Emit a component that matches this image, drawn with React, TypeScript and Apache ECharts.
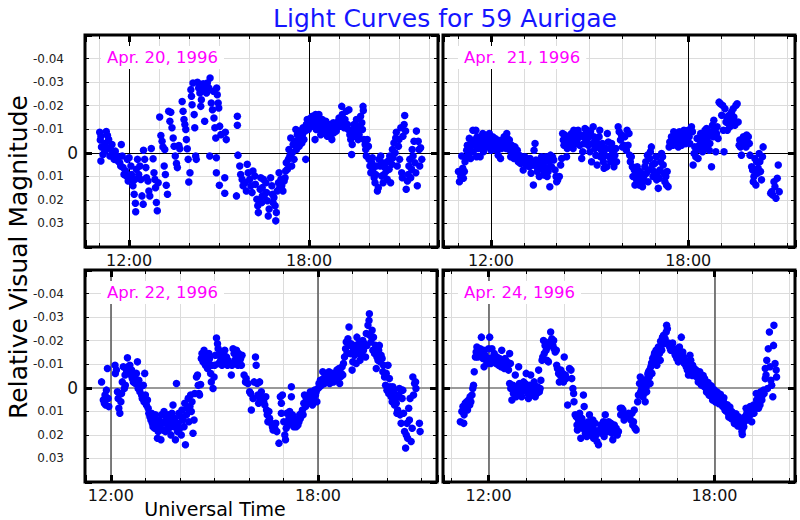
import React, { useEffect, useRef } from "react";
import * as echarts from "echarts";

// ---------- DATA: [universal time (hours), relative visual magnitude] ----------
const apr20: number[][] = [
  [11.02,-0.0087],[11.06,-0.007],[11.04,-0.0054],[11.08,-0.0025],[11.06,0.0035],[11.13,0.0007],[11.24,-0.009],[11.28,-0.0073],[11.21,-0.004],[11.32,-0.0056],
  [11.3,-0.002],[11.39,-0.0014],[11.19,-0.0007],[11.36,0.0014],[11.43,-0.0035],[11.47,0],[11.5,0.0028],[11.54,-0.0007],[11.58,0.0014],[11.63,0.0035],
  [11.69,0.0042],[11.74,-0.0035],[11.77,0.0014],[11.72,0.0056],[11.8,0.0063],[11.83,0.0092],[11.88,0.0077],[11.94,0.0028],[11.91,0.0099],[11.97,0.012],
  [12.0,0.0021],[12.06,0.0056],[12.08,0.0092],[12.1,0.0113],[12.13,0.014],[12.17,0.0176],[12.21,0.0214],[12.22,0.025],[12.19,0.0113],[12.24,0.007],
  [12.28,0.0028],[12.32,0.0092],[12.36,0.0056],[12.39,0.0113],[12.43,0.0183],[12.47,0.0218],[12.48,-0.0011],[12.52,0.0028],[12.56,0.0063],[12.58,0.0106],
  [12.63,0.012],[12.66,0.0162],[12.69,0.0183],[12.74,-0.0018],[12.8,0.0025],[12.83,0.0085],[12.88,0.0148],[12.91,0.0211],[12.94,0.0246],[12.86,0.0113],
  [12.97,0.0127],[13.02,-0.0152],[13.06,-0.0073],[13.1,-0.0049],[13.13,-0.0025],[13.17,0.0056],[13.21,0.0092],[13.24,0.0138],[13.28,0.0176],[13.19,-0.0014],
  [13.32,-0.0176],[13.39,-0.0172],[13.36,-0.0134],[13.43,-0.0106],[13.47,-0.0063],[13.5,-0.0028],[13.54,0.0014],[13.58,0.0045],[13.61,0.0063],[13.66,-0.0031],
  [13.69,-0.0017],[13.77,-0.0218],[13.8,-0.0176],[13.83,-0.0141],[13.86,-0.012],[13.89,-0.0099],[13.91,-0.0056],[13.94,-0.0017],[13.97,0.0028],[13.99,0.0124],
  [14.03,0.0085],[14.06,-0.0268],[14.08,-0.024],[14.1,-0.0204],[14.13,-0.0296],[14.17,-0.0162],[14.19,-0.0106],[14.22,0.0014],[14.24,0.0028],[14.28,-0.0299],
  [14.32,-0.0275],[14.36,-0.0254],[14.39,-0.0197],[14.41,-0.0225],[14.47,-0.0293],[14.5,-0.0268],[14.54,-0.0285],[14.52,-0.0134],[14.58,-0.0254],[14.61,-0.0296],
  [14.66,-0.0275],[14.7,-0.0317],[14.69,0.0014],[14.74,-0.0211],[14.78,-0.0183],[14.81,-0.0261],[14.83,-0.0148],[14.86,-0.0106],[14.89,-0.0063],[14.91,0.0021],
  [14.92,-0.0275],[14.94,-0.0246],[14.97,-0.0211],[14.99,-0.019],[15.02,-0.0113],[15.06,-0.0077],[14.91,0.0085],[15.01,0.0138],[15.19,0.0106],[15.21,-0.0087],
  [15.24,-0.0056],[15.19,0.0172],[15.61,-0.0155],[15.61,-0.0117],[15.58,0.0183],[15.63,0.001],[15.69,0.0056],[15.72,0.0092],[15.77,0.0113],[15.8,0.014],
  [15.86,0.0127],[15.91,0.0162],[15.94,0.0049],[15.97,0.0085],[16.02,0.0113],[16.06,0.014],[16.1,0.0169],[16.13,0.0077],[16.19,0.0099],[16.21,0.0134],
  [16.26,0.0197],[16.31,0.0254],[16.29,0.0225],[16.37,0.0155],[16.41,0.0211],[16.44,0.0183],[16.48,0.0113],
  [16.39,0.0106],[16.44,0.0148],[16.5,0.0183],[16.42,0.0211],[16.56,0.0127],[16.58,0.0169],[16.61,0.0204],[16.64,0.0268],[16.67,0.0239],[16.72,0.0106],
  [16.76,0.014],[16.78,0.0176],[16.8,0.0211],[16.83,0.019],[16.87,0.0225],[16.89,0.0289],[16.91,0.0254],[16.94,0.0162],[16.98,0.0127],[17.0,0.0085],
  [17.02,0.0148],[17.06,0.0113],[17.09,0.014],[17.13,0.0162],[17.17,0.012],[17.2,0.0106],[17.22,0.0077],[17.24,0.0042],[17.28,0.007],[17.31,0.0028],
  [17.33,-0.0014],[17.36,0.0014],[17.39,-0.0063],[17.42,0.0056],[17.44,0],[17.47,-0.0035],[17.5,0.0028],[17.53,-0.0049],[17.56,-0.0099],[17.58,-0.0014],
  [17.61,-0.0077],[17.64,-0.0049],[17.67,-0.0028],[17.69,-0.0092],[17.72,-0.0063],[17.76,-0.0042],[17.78,-0.0077],[17.8,-0.0106],[17.83,-0.0056],[17.87,-0.0092],
  [17.89,0.0028],[17.91,-0.012],[17.94,-0.0141],[17.98,-0.0099],[18.0,-0.0127],[18.06,-0.0148],[18.09,-0.0113],[18.11,-0.0155],[18.17,-0.0134],[18.2,-0.0056],
  [18.22,-0.0162],[18.24,-0.0099],[18.28,-0.0148],[18.31,-0.012],[18.33,-0.0162],[18.37,-0.0127],[18.39,-0.0077],[18.42,-0.0099],[18.44,-0.0141],[18.48,-0.012],
  [18.5,-0.0113],[18.53,-0.0085],[18.56,-0.0134],[18.59,-0.0099],[18.61,-0.007],[18.64,-0.0113],[18.67,-0.0092],[18.7,-0.012],[18.72,-0.007],[18.76,-0.0056],
  [18.78,-0.0099],[18.81,-0.0127],[18.83,-0.0085],[18.87,-0.0106],[18.89,-0.012],[18.91,-0.0092],[18.94,-0.0113],[18.98,-0.0134],[19.0,-0.0148],[19.03,-0.0113],
  [19.06,-0.0134],[19.09,-0.0197],[19.11,-0.0162],[19.13,-0.0127],[19.17,-0.0106],[19.2,-0.0141],[19.24,-0.0176],[19.28,-0.012],[19.31,-0.0099],[19.33,-0.0183],
  [19.36,-0.0077],[19.39,-0.0056],[19.42,0.0007],[19.44,-0.0035],[19.47,-0.0099],[19.5,-0.012],[19.53,-0.007],[19.56,-0.0092],[19.58,-0.0141],[19.61,-0.0113],
  [19.64,-0.0056],[19.67,-0.0077],[19.69,-0.0106],[19.72,-0.0155],[19.76,-0.0127],[19.78,-0.0099],[19.8,-0.0197],[19.81,-0.018],[19.83,-0.0056],[19.87,-0.0035],
  [19.89,-0.0014],[19.91,0.0014],[19.94,-0.0056],[19.98,-0.0028],[20.0,0.0028],[20.03,0.0056],[20.06,0.0085],[20.09,0.0042],[20.11,0.0021],[20.13,0.007],
  [20.17,0.0106],[20.2,0.0127],[20.22,0.0092],[20.24,0.0056],[20.28,0.0162],[20.31,0.0148],[20.33,0.0028],[20.37,0.0056],[20.39,0.0014],[20.42,0.0099],
  [20.44,0.0042],[20.47,0.0127],[20.5,0.0092],[20.53,0.0063],[20.56,0.0042],[20.58,0.0077],[20.61,0.0113],[20.64,0.0035],[20.67,0.007],[20.69,0.0014],
  [20.72,0.0127],[20.76,0.0049],[20.78,-0.0014],[20.8,0.0021],[20.83,-0.0042],[20.87,0],[20.89,-0.0063],[20.91,-0.0087],[20.94,0.0056],[20.98,-0.0028],
  [21.0,-0.0056],[21.02,0.0028],[21.06,-0.0106],[21.09,0.0085],[21.11,0.0106],[21.13,-0.007],[21.17,-0.012],[21.19,-0.0158],[21.22,-0.0092],[21.24,0.0155],
  [21.28,0.012],[21.31,0.0092],[21.33,0.0056],[21.36,0.0028],[21.39,0.0106],[21.42,0.007],[21.44,-0.0014],[21.47,0.0014],[21.5,-0.0049],[21.53,0.0042],
  [21.56,0.0085],[21.58,-0.0092],[21.61,0.014],[21.64,-0.0049],[21.67,-0.0014],[21.69,0.0056],[21.72,-0.0021],[21.76,0.0028]
];

const apr21: number[][] = [
  [11.01,0.008],[11.04,0.0123],[11.08,0.0101],[11.11,0.0014],[11.14,0.0066],[11.16,0.0108],[11.19,0.008],[11.21,0.0038],[11.24,0.0024],[11.26,-0.0011],
  [11.28,-0.0032],[11.31,0.001],[11.34,-0.0061],[11.36,-0.0025],[11.38,0.0024],[11.41,-0.0039],[11.45,-0.0096],[11.46,-0.0004],[11.48,-0.0054],[11.51,-0.0032],
  [11.54,-0.0096],[11.56,0.0017],[11.58,-0.0068],[11.61,-0.0018],[11.65,-0.0046],[11.67,0.0017],[11.69,-0.0061],[11.72,-0.0032],[11.75,-0.0082],[11.77,-0.0004],
  [11.79,-0.0039],[11.82,-0.0068],[11.85,-0.0025],[11.87,-0.0046],[11.89,-0.0068],[11.92,-0.0032],[11.95,-0.0082],[11.97,-0.0054],[12.0,-0.0011],[12.02,-0.0039],
  [12.05,-0.0068],[12.07,-0.0025],[12.09,-0.0046],[12.12,-0.0061],[12.15,-0.0032],[12.17,-0.0011],[12.2,-0.0054],[12.22,0.001],[12.25,-0.0025],[12.27,-0.0039],
  [12.29,0.0024],[12.32,-0.0018],[12.35,-0.0054],[12.37,-0.0032],[12.4,-0.0068],[12.43,-0.0039],[12.46,-0.0018],[12.48,-0.0082],[12.5,-0.0061],[12.53,-0.0032],
  [12.56,-0.0054],[12.58,-0.0011],[12.6,0.0017],[12.63,-0.0032],[12.66,-0.0018],[12.68,-0.0004],[12.7,0.0024],[12.73,-0.0025],[12.76,0.0003],[12.78,0.0017],
  [12.8,-0.0011],[12.83,0.0038],[12.86,0.001],[12.88,0.0024],[12.9,0.0045],[12.93,0.0017],[12.96,0.0031],[12.98,0.0073],[13.01,0.0038],[13.03,0.0017],
  [13.06,0.0052],[13.08,0.0031],[13.1,0.0024],[13.13,0.0045],[13.17,0.0059],[13.19,0.0024],[13.22,0.0087],[13.24,0.0038],[13.27,0.0052],[13.29,0.0137],
  [13.31,-0.0011],[13.34,-0.0039],[13.37,0.0031],[13.39,0.0059],[13.41,0.008],[13.44,0.0045],[13.47,0.0101],[13.49,0.0066],[13.52,0.0038],[13.54,0.0017],
  [13.57,0.0052],[13.59,0.0073],[13.62,0.0094],[13.64,0.0038],[13.67,0.0017],[13.69,0.0066],[13.71,0.0101],[13.74,0.008],[13.77,0.0038],[13.79,0.0144],
  [13.81,0.001],[13.84,0.0059],[13.87,0.0017],[13.91,0.0031],[13.95,0.0073],[13.98,0.0101],[14.0,0.0123],[14.03,0.0115],[14.08,0.0101],[14.12,0.0052],
  [14.15,0.0024],[14.18,-0.0082],[14.2,-0.0054],[14.22,-0.0032],[14.25,-0.0075],[14.28,-0.0039],[14.3,0.0017],[14.32,-0.0018],[14.35,-0.0061],[14.38,-0.0039],
  [14.4,-0.0068],[14.42,-0.0032],[14.45,-0.0082],[14.48,-0.0046],[14.5,-0.0018],[14.52,-0.0096],[14.55,-0.0061],[14.58,-0.0039],[14.6,-0.0082],[14.62,-0.0054],
  [14.65,-0.0096],[14.68,-0.0068],[14.7,-0.0032],[14.73,-0.0075],[14.76,0.0024],[14.79,-0.0004],[14.81,-0.0068],[14.83,-0.0039],[14.86,-0.0103],[14.89,-0.0082],
  [14.91,-0.0054],[14.93,-0.0096],[14.96,-0.0032],[14.99,-0.0068],[15.01,-0.0004],[15.03,-0.0089],[15.06,0.0038],[15.09,-0.0039],[15.11,-0.011],[15.13,-0.0068],
  [15.16,-0.0018],[15.19,0.001],[15.21,-0.0046],[15.23,0.0052],[15.26,-0.0025],[15.29,-0.0068],[15.31,-0.0096],[15.33,0.0017],[15.36,-0.0011],[15.39,-0.0039],
  [15.42,0.0038],[15.44,0.0066],[15.47,0.001],[15.5,-0.0018],[15.52,0.0059],[15.54,-0.0082],[15.57,-0.0046],[15.6,0.0017],[15.62,-0.0018],[15.64,0.0038],
  [15.67,-0.0039],[15.7,-0.0004],[15.72,0.0024],[15.74,0.0059],[15.77,0.001],[15.8,-0.0018],[15.82,0.0038],[15.87,-0.011],[15.9,-0.0089],[15.94,-0.0054],
  [15.97,-0.0075],[16.0,-0.0025],[16.04,-0.0032],[16.07,-0.0068],[16.12,-0.0011],[16.14,-0.0096],[16.17,-0.0032],[16.2,-0.0082],[16.22,0.001],[16.24,0.0038],
  [16.27,0.0017],[16.3,0.0059],[16.32,0.0101],[16.36,0.0073],[16.38,0.0137],[16.41,0.0094],[16.43,0.0115],[16.45,0.0059],[16.48,0.0101],[16.51,0.0137],
  [16.53,0.008],[16.55,0.0115],[16.58,0.0087],[16.61,0.0144],[16.63,0.0123],[16.65,0.0101],[16.68,0.0059],[16.71,0.0038],[16.73,0.0087],[16.76,0.001],
  [16.78,0.0123],[16.81,0.0073],[16.83,0.0024],[16.85,-0.0004],[16.88,-0.0025],[16.91,0.0052],[16.93,0.0101],[16.96,0.008],[16.98,0.0045],[17.02,0.0017],
  [17.04,0.0115],[17.06,0.0087],[17.09,0.0151],[17.12,0.0108],[17.14,0.0073],[17.16,0.0038],[17.19,0.0003],[17.22,0.0017],[17.24,0.0052],[17.26,0.0087],
  [17.29,0.0123],[17.32,0.0101],[17.34,0.0137],[17.36,0.008],[17.39,0.0144],[17.42,-0.0025],[17.44,-0.0046],[17.46,-0.0032],[17.49,-0.0068],[17.52,-0.0054],
  [17.54,-0.0032],[17.56,-0.0089],[17.59,-0.0068],[17.62,-0.0039],[17.64,-0.0082],[17.66,-0.0061],[17.7,-0.0025],[17.73,-0.0089],[17.75,-0.0054],[17.77,-0.0075],
  [17.8,-0.0032],[17.83,-0.0082],[17.85,-0.0054],[17.87,-0.0096],[17.9,-0.0068],[17.93,-0.0039],[17.95,-0.0082],[17.97,-0.0061],[18.0,-0.0096],[18.03,-0.0068],
  [18.05,-0.0039],[18.1,-0.011],[18.13,-0.0089],[18.15,0.0052],[18.18,0.0003],[18.2,-0.0025],[18.23,0.0017],[18.25,-0.0011],[18.27,-0.0061],[18.3,0.0024],
  [18.34,-0.0032],[18.36,-0.0054],[18.38,-0.0082],[18.41,-0.0025],[18.44,-0.0004],[18.46,-0.0068],[18.48,-0.0039],[18.51,-0.0096],[18.54,-0.0018],[18.56,-0.0103],
  [18.58,-0.0054],[18.61,-0.0075],[18.64,-0.0011],[18.66,-0.0039],[18.69,-0.0089],[18.71,0.0059],[18.74,-0.0117],[18.76,-0.0068],[18.78,-0.0138],[18.81,-0.0096],
  [18.84,-0.0004],[18.86,-0.0082],[18.88,-0.011],[18.91,-0.0061],[18.94,-0.0215],[18.98,-0.0208],[19.02,-0.0159],[19.05,-0.0201],[19.07,-0.0096],[19.09,-0.0004],
  [19.12,-0.0187],[19.15,-0.0131],[19.17,-0.0152],[19.19,-0.0096],[19.22,-0.0124],[19.25,-0.0159],[19.27,-0.011],[19.29,-0.0138],[19.32,-0.0173],[19.35,-0.0138],
  [19.37,-0.0187],[19.39,-0.0152],[19.42,-0.0117],[19.45,-0.0201],[19.49,-0.0208],[19.52,-0.0131],[19.55,-0.0032],[19.57,-0.0054],[19.59,-0.0025],[19.62,0.001],
  [19.65,-0.0039],[19.68,-0.0068],[19.7,-0.0032],[19.73,-0.0054],[19.76,-0.0025],[19.78,-0.0075],[19.8,-0.0046],[19.83,-0.0068],[19.86,-0.0039],[19.88,0.001],
  [19.93,0.0059],[19.96,0.0073],[19.98,0.0123],[20.0,0.0101],[20.03,0.0024],[20.06,0.0137],[20.08,0.0038],[20.1,0.0087],[20.13,0.0066],[20.16,0.0003],
  [20.18,0.0038],[20.2,0.008],[20.23,0.0115],[20.26,0.0017],[20.28,-0.0025],[20.51,0.0172],[20.54,0.0165],[20.57,0.0179],[20.61,0.0123],[20.64,0.0144],
  [20.67,0.0193],[20.71,0.0108],[20.74,0.0052],[20.77,0.0165]
];

const apr22: number[][] = [
  [11.73,-0.0025],[11.78,0.0052],[11.81,0.0066],[11.83,0.0031],[11.85,0.0073],[11.87,0.001],[11.9,-0.0082],[11.92,0.0045],[11.94,0.008],[12.12,-0.0096],
  [12.13,-0.0061],[12.16,-0.0075],[12.19,0.0017],[12.21,0.0045],[12.23,0.0087],[12.26,0.0108],[12.29,0.0059],[12.31,0.0024],[12.33,-0.0025],[12.36,-0.0089],
  [12.39,0.0003],[12.41,-0.0054],[12.42,-0.0011],[12.45,-0.0075],[12.48,-0.0127],[12.5,-0.0089],[12.52,-0.0068],[12.55,-0.0096],[12.58,-0.0054],[12.6,-0.0075],
  [12.62,-0.0039],[12.65,-0.0025],[12.68,-0.0061],[12.69,-0.0046],[12.71,-0.0018],[12.74,-0.0061],[12.77,-0.011],[12.79,0.0003],[12.81,-0.0032],[12.84,0.0017],
  [12.87,-0.0004],[12.89,0.0031],[12.91,0.0045],[12.94,-0.0011],[12.96,0.0059],[12.98,-0.0061],[13.0,0.0031],[13.03,0.0073],[13.06,0.0052],[13.08,0.0087],
  [13.1,0.0108],[13.13,0.0123],[13.16,0.0137],[13.18,0.0108],[13.2,0.0151],[13.22,0.0165],[13.25,0.013],[13.27,0.0172],[13.29,0.0115],[13.32,0.0151],
  [13.35,0.0214],[13.37,0.0186],[13.39,0.0137],[13.42,0.0165],[13.45,0.0221],[13.47,0.0115],[13.49,0.0151],[13.51,0.0179],[13.54,0.0101],[13.56,0.0144],
  [13.58,0.0186],[13.61,0.013],[13.64,0.0158],[13.66,0.0115],[13.68,0.0172],[13.71,0.0137],[13.74,0.02],[13.76,0.0151],[13.77,0.0108],[13.8,0.0073],
  [13.83,0.0165],[13.85,0.013],[13.87,0.0221],[13.9,-0.0018],[13.93,0.0186],[13.95,0.0151],[13.97,0.0108],[14.0,0.0172],[14.03,0.0123],[14.04,0.02],
  [14.06,0.0094],[14.09,0.0137],[14.12,0.0165],[14.14,0.0066],[14.16,0.0242],[14.19,0.0115],[14.22,0.0087],[14.24,0.0045],[14.26,0.0144],[14.29,0.008],
  [14.31,0.0031],[14.33,0.0101],[14.35,0.0059],[14.38,0.0193],[14.41,0.0137],[14.43,0.0024],[14.48,-0.0046],[14.51,-0.0054],[14.53,-0.0011],[14.55,0.0024],
  [14.57,0.0031],[14.6,-0.0014],[14.62,-0.0124],[14.64,-0.0145],[14.67,-0.011],[14.7,-0.0159],[14.72,-0.0138],[14.74,-0.0096],[14.77,-0.0124],[14.8,-0.0082],
  [14.82,-0.011],[14.84,-0.0145],[14.86,-0.0124],[14.89,-0.0061],[14.91,-0.0025],[14.93,-0.0096],[14.96,0.0003],[14.99,-0.0046],[15.01,-0.0096],[15.03,-0.0138],
  [15.06,-0.0211],[15.09,-0.0187],[15.11,-0.0166],[15.12,-0.0103],[15.15,-0.0138],[15.18,-0.0117],[15.2,-0.0152],[15.22,-0.0096],[15.25,-0.0124],[15.28,-0.0138],
  [15.3,-0.0159],[15.32,-0.011],[15.35,-0.0131],[15.38,-0.0096],[15.39,-0.0117],[15.44,-0.0103],[15.49,-0.0054],[15.51,-0.0096],[15.54,-0.0166],[15.57,-0.0145],
  [15.59,-0.0117],[15.64,-0.0159],[15.66,-0.0131],[15.68,-0.0096],[15.7,-0.0145],[15.73,-0.011],[15.76,-0.0124],[15.78,-0.0096],[15.8,-0.0138],[15.86,-0.0054],
  [15.9,-0.0025],[15.92,-0.0039],[15.97,-0.0018],[16.02,0.0017],[16.05,0.0024],[16.07,0.0094],[16.12,0.0045],[16.15,-0.0025],[16.19,-0.0131],[16.21,-0.0096],
  [16.24,-0.0018],[16.26,0.0031],[16.28,0.0066],[16.31,0.0045],[16.36,0.0017],
  [16.31,-0.0025],[16.39,0.0045],[16.43,0.0059],[16.46,0.0073],[16.49,0.0038],[16.51,0.0094],[16.53,0.0115],[16.55,0.0144],[16.58,0.0101],[16.6,0.013],
  [16.65,0.0151],[16.68,0.0165],[16.7,0.0179],[16.75,0.0172],[16.78,0.0151],[16.81,0.0186],[16.87,0.0235],[16.91,0.0038],[16.94,0.0066],[16.94,0.0108],
  [16.97,0.0031],[17.01,0.0144],[17.04,0.02],[17.06,0.0221],[17.08,0.0172],[17.1,0.0108],[17.13,0.0158],[17.16,0.013],[17.18,0.0101],[17.2,0.0151],
  [17.23,-0.0004],[17.23,0.0038],[17.26,0.0115],[17.28,0.0144],[17.3,0.0165],[17.32,0.013],[17.35,0.0151],[17.37,0.0165],[17.39,0.0137],[17.42,0.0158],
  [17.45,0.0144],[17.47,0.0115],[17.49,0.013],[17.52,0.0108],[17.55,0.0094],[17.57,0.0115],[17.59,0.0066],[17.61,0.0031],[17.64,0.008],[17.66,0.0045],
  [17.68,0.0059],[17.71,0.0038],[17.74,0.0031],[17.76,0.0066],[17.78,0.0017],[17.81,0.0038],[17.84,0.0073],[17.86,0.0024],[17.87,0.0045],[17.9,0.001],
  [17.93,0.0031],[17.95,0.0017],[17.97,0.0059],[18.0,0.0003],[18.03,-0.0018],[18.05,-0.0004],[18.07,-0.0032],[18.1,-0.0011],[18.13,-0.0023],[18.14,-0.0068],
  [18.16,-0.0039],[18.19,-0.0018],[18.22,-0.0054],[18.24,-0.0028],[18.26,-0.0046],[18.29,-0.0032],[18.32,-0.0068],[18.34,-0.0018],[18.36,-0.0054],[18.39,-0.0039],
  [18.41,-0.0061],[18.43,-0.0046],[18.45,-0.0025],[18.48,-0.0061],[18.51,-0.0039],[18.53,-0.0054],[18.55,-0.0075],[18.58,-0.0054],[18.61,-0.0082],[18.63,-0.0018],
  [18.65,-0.0046],[18.68,-0.0061],[18.7,-0.0089],[18.72,-0.0054],[18.74,-0.0103],[18.77,-0.0131],[18.8,-0.0166],[18.82,-0.0194],[18.84,-0.0145],[18.87,-0.0208],
  [18.9,-0.0258],[18.92,-0.018],[18.94,-0.0145],[18.96,-0.0187],[18.99,-0.0075],[19.01,-0.011],[19.03,-0.0159],[19.06,-0.0138],[19.09,-0.018],[19.11,-0.0103],
  [19.13,-0.0215],[19.16,-0.0166],[19.19,-0.0145],[19.21,-0.0194],[19.22,-0.0117],[19.25,-0.0173],[19.28,-0.0138],[19.3,-0.0201],[19.32,-0.0159],[19.35,-0.0187],
  [19.38,-0.0131],[19.4,-0.023],[19.42,-0.018],[19.45,-0.0265],[19.48,-0.0286],[19.49,-0.0314],[19.51,-0.0222],[19.54,-0.0194],[19.57,-0.0244],[19.59,-0.0159],
  [19.61,-0.0215],[19.64,-0.0145],[19.67,-0.018],[19.69,-0.0082],[19.71,-0.0131],[19.74,-0.0117],[19.76,-0.0159],[19.78,-0.018],[19.8,-0.011],[19.83,-0.0138],
  [19.86,-0.0124],[19.88,-0.0068],[19.9,-0.0096],[19.93,-0.0046],[19.96,-0.0011],[19.98,-0.0061],[20.0,0.001],[20.03,-0.0096],[20.05,0.0024],[20.07,-0.0039],
  [20.09,-0.0004],[20.12,0.0038],[20.15,0.0059],[20.17,-0.0004],[20.19,0.0017],[20.22,0.0073],[20.25,0.0045],[20.27,0.0066],[20.29,0.0108],[20.31,0.0094],
  [20.34,0.0031],[20.36,0.0003],[20.38,0.0115],[20.41,0.0151],[20.44,0.0045],[20.46,0.001],[20.48,0.0108],[20.51,0.0186],[20.54,0.0256],[20.56,0.02],
  [20.58,0.0151],[20.6,0.0214],[20.63,0.0087],[20.65,0.0137],[20.67,0.0045],[20.7,0.0228],[20.73,0.0172],[20.75,-0.0046],[20.77,0.0031],[20.8,-0.0018],
  [20.83,-0.0025],[20.84,0.0003],[20.94,0.0151],[20.96,0.0186]
];

const apr24: number[][] = [
  [11.25,0.0144],[11.29,0.0101],[11.32,0.008],[11.34,0.0151],[11.35,0.0115],[11.38,0.0066],[11.41,0.0087],[11.42,0.0059],[11.44,0.0094],[11.47,0.0052],
  [11.5,0.0073],[11.51,0.0038],[11.53,0.0059],[11.56,0.0031],[11.58,0.0003],[11.6,-0.0011],[11.62,-0.0068],[11.65,-0.0131],[11.67,-0.0152],[11.69,-0.0173],
  [11.71,-0.0131],[11.73,-0.0159],[11.76,-0.0138],[11.78,-0.0166],[11.81,-0.0215],[11.82,-0.0145],[11.85,-0.0124],[11.87,-0.0159],[11.88,-0.0089],[11.91,-0.0138],
  [11.94,-0.0117],[11.96,-0.0103],[11.97,-0.0124],[12.0,-0.0166],[12.03,-0.0215],[12.04,-0.0124],[12.06,-0.0103],[12.09,-0.0166],[12.12,-0.0131],[12.13,-0.011],
  [12.15,-0.0145],[12.18,-0.0124],[12.2,-0.0103],[12.22,-0.0131],[12.24,-0.0117],[12.27,-0.0096],[12.29,-0.0124],[12.31,-0.011],[12.33,-0.0089],[12.35,-0.0159],
  [12.38,-0.0117],[12.4,-0.0103],[12.42,-0.0082],[12.44,-0.0124],[12.47,-0.0096],[12.49,-0.011],[12.5,-0.0089],[12.53,-0.0075],[12.56,-0.0145],[12.58,-0.0103],
  [12.56,-0.0018],[12.59,0.0003],[12.62,0.0052],[12.65,-0.0011],[12.66,0.0024],[12.68,0.001],[12.71,-0.0054],[12.73,0.0038],[12.75,-0.0004],[12.77,0.0017],
  [12.8,-0.0089],[12.82,-0.0018],[12.84,0.0024],[12.86,0.0003],[12.88,0.0038],[12.91,-0.0004],[12.93,-0.0025],[12.95,0.001],[12.97,-0.0018],[13.0,-0.0061],
  [13.02,0.0003],[13.04,0.0024],[13.06,0.0045],[13.09,-0.0011],[13.11,0.0017],[13.12,-0.0054],[13.15,0.0031],[13.18,-0.0004],[13.19,0.0017],[13.21,-0.0025],
  [13.24,0.0038],[13.27,0.001],[13.28,0.0024],[13.3,-0.0004],[13.33,-0.0075],[13.35,0.0017],[13.37,0.0003],[13.39,-0.0032],[13.42,-0.0117],[13.44,-0.0131],
  [13.46,-0.0201],[13.48,-0.0145],[13.5,-0.018],[13.53,-0.0159],[13.55,-0.0117],[13.57,-0.0173],[13.59,-0.011],[13.62,-0.0194],[13.65,-0.0237],[13.68,-0.0208],
  [13.71,-0.018],[13.73,-0.0201],[13.74,-0.0166],[13.77,-0.0152],[13.8,-0.0159],[13.81,-0.0096],[13.83,-0.0082],[13.86,-0.0061],[13.88,-0.0025],[13.9,-0.0054],
  [13.92,-0.0075],[13.95,-0.0046],[13.97,-0.0061],[13.99,-0.0025],[14.01,-0.0131],[14.04,-0.0054],[14.06,-0.0039],[14.1,0.0073],[14.15,-0.0082],[14.19,-0.0075],
  [14.21,-0.0039],[14.24,0.0003],[14.26,0.0024],[14.27,0.0059],[14.3,0.0115],[14.33,0.0123],[14.35,0.0158],[14.36,0.0179],[14.39,0.0137],[14.42,0.0108],
  [14.43,0.0151],[14.45,0.0214],[14.48,0.013],[14.5,0.0172],[14.52,0.0031],[14.54,0.008],[14.57,0.0193],[14.59,0.0151],[14.61,0.0207],[14.63,0.0172],
  [14.65,0.0144],[14.68,0.0115],[14.7,0.0179],[14.72,0.02],[14.74,0.0165],[14.77,0.0137],[14.79,0.0214],[14.81,0.0179],[14.83,0.0151],[14.86,0.02],
  [14.88,0.0228],[14.92,0.0242],[14.95,0.0179],[14.98,0.0158],[15.01,0.0193],[15.04,0.0172],[15.05,0.0144],[15.07,0.0207],[15.1,0.0115],[15.12,0.0172],
  [15.14,0.0151],[15.16,0.0186],[15.19,0.0144],[15.21,0.0165],[15.23,0.0179],[15.25,0.0151],[15.28,0.0193],[15.3,0.0221],[15.32,0.0165],[15.34,0.0158],
  [15.36,0.0179],[15.39,0.0172],[15.42,0.02],[15.45,0.0186],[15.5,0.0087],[15.51,0.0115],[15.54,0.0087],[15.57,0.0094],[15.6,0.0137],[15.63,0.0115],
  [15.67,0.0123],[15.72,0.0108],[15.74,0.0123],[15.78,0.0137],[15.81,0.0108],[15.83,0.0158],[15.85,0.0144],[15.87,0.0094],[15.89,0.0172],[15.92,0.0179],
  [15.96,0.0059],[15.98,0.0031],[16.01,-0.0018],[16.03,-0.0046],[16.04,0.0017],[16.07,0.0003],[16.1,0.0038],[16.12,-0.0032],[16.13,0.0024],[16.16,0.0059],
  [16.19,-0.0004],[16.2,0.0017],[16.22,-0.0039],[16.25,-0.0068],[16.27,-0.0046],[16.29,-0.0018],[16.31,-0.0089],[16.34,-0.0061],[16.36,-0.0124],[16.38,-0.0103],
  [16.4,-0.0138],[16.42,-0.0117],[16.45,-0.0159],[16.47,-0.0096],[16.49,-0.0131],[16.51,-0.0173],[16.54,-0.0145],[16.56,-0.0117],[16.58,-0.018],[16.6,-0.0159],
  [16.63,-0.0201],[16.65,-0.0223],[16.66,-0.0187],[16.69,-0.0208],[16.72,-0.0237],[16.73,-0.0265],[16.75,-0.0251],[16.78,-0.019],[16.81,-0.0173],[16.82,-0.0187],
  [16.84,-0.0159],[16.87,-0.018],[16.89,-0.019],[16.91,-0.0166],[16.93,-0.0152],[16.96,-0.0138],[16.98,-0.0159],[17.0,-0.0124],[17.02,-0.0145],[17.04,-0.011],
  [17.07,-0.0173],[17.09,-0.0138],[17.12,-0.0215],[17.13,-0.0124],[17.16,-0.0152],[17.18,-0.0131],[17.2,-0.0103],[17.22,-0.0117],[17.25,-0.0089],[17.27,-0.0103],
  [17.28,-0.0075],[17.31,-0.0054],[17.34,-0.0089],[17.35,-0.0138],[17.37,-0.0117],[17.4,-0.0075],[17.42,-0.0096],[17.44,-0.0061],[17.46,-0.0082],[17.49,-0.0054],
  [17.51,-0.0075],[17.53,-0.0046],[17.55,-0.0061],[17.58,-0.0039],[17.6,-0.0054],[17.62,-0.0032],[17.64,-0.0046],[17.66,-0.0025],[17.69,-0.0039],[17.71,-0.0018],
  [17.73,-0.0004],[17.75,-0.0025],[17.78,-0.0011],[17.8,0.001],[17.81,-0.0004],[17.84,0.0017],[17.87,-0.0004],[17.88,0.0024],[17.9,0.0003],[17.93,0.0017],
  [17.96,0.0038],[17.97,0.001],[18.0,0.0024],[18.02,0.0045],[18.04,0.0017],[18.06,0.0031],[18.08,0.0052],[18.11,0.0038],[18.13,0.0059],[18.15,0.0045],
  [18.17,0.0066],[18.19,0.0052],[18.22,0.008],[18.24,0.0059],[18.26,0.0073],[18.28,0.0094],[18.31,0.008],[18.33,0.0101],[18.35,0.0087],[18.37,0.0108],
  [18.4,0.0094],[18.42,0.0115],[18.43,0.0123],[18.46,0.0101],[18.49,0.013],[18.5,0.0115],[18.52,0.0137],[18.55,0.0123],[18.58,0.0151],[18.59,0.013],
  [18.61,0.0144],[18.64,0.0123],[18.66,0.0158],[18.68,0.0137],[18.7,0.0165],[18.73,0.0186],[18.75,0.0172],[18.77,0.0151],[18.79,0.013],[18.81,0.0123],
  [18.84,0.0087],[18.86,0.0108],[18.88,0.0137],[18.9,0.0123],[18.93,0.0101],[18.95,0.008],[18.96,0.0115],[18.99,0.0144],[19.02,0.0094],[19.04,0.0073],
  [19.05,0.0108],[19.08,0.008],[19.11,0.0024],[19.12,0.0052],[19.14,0.0066],[19.17,0.0087],[19.19,0.0038],[19.21,0.0073],[19.23,0.0017],[19.26,0.0052],
  [19.28,0.0031],[19.3,0.001],[19.32,0.0024],[19.35,-0.0039],[19.35,-0.0082],[19.37,-0.0054],[19.39,-0.0117],[19.41,0.0003],[19.43,-0.0166],[19.46,-0.0237],
  [19.48,-0.0089],[19.5,-0.0032],[19.52,-0.0011],[19.55,0.0038],[19.57,-0.018],[19.58,-0.0265],[19.61,-0.0103],[19.64,-0.0075],[19.65,-0.0046],
  [16.08,-0.0015],[16.15,-0.0012],[16.23,-0.0058],[16.28,-0.0075],[16.33,-0.0105],[16.41,-0.0148],[16.46,-0.0135],[16.53,-0.0158],[16.57,-0.0198],[16.62,-0.0215],
  [17.32,-0.0095],[17.36,-0.0065],[17.41,-0.0052],[17.47,-0.0072],[17.52,-0.0058],[17.57,-0.0025],[17.61,-0.0068],[17.65,-0.0012],[17.7,-0.0052],[17.74,-0.0038],
  [17.79,0.0018],[17.83,-0.0022],[17.86,0.0032],[17.92,-0.0008],[17.95,0.0052],[17.99,0.0008],[18.03,0.006],[18.07,0.0018],[18.12,0.0068],[18.16,0.0028],
  [18.2,0.0072],[18.25,0.0042],[18.3,0.0098],[18.34,0.0072],[18.38,0.0124],[18.41,0.0082],[18.45,0.0132],[18.48,0.0108],[18.53,0.0152],[18.57,0.011],
  [18.62,0.0162],[18.67,0.0148],[18.71,0.0148],[18.74,0.0198],[18.78,0.0165]
];

// ---------- axis configuration ----------
const panelLabels = ["Apr. 20, 1996", "Apr.  21, 1996", "Apr. 22, 1996", "Apr. 24, 1996"];
const panelData = [apr20, apr21, apr22, apr24];
const xMins = [10.53, 10.54, 11.25, 10.79];
const xMaxs = [22.3, 21.25, 21.45, 20.14];
const yMin = -0.05;
const yMax = 0.04;
const timeLabels: Record<number, string> = { 12: "12:00", 18: "18:00" };

const FONT = '"DejaVu Sans", sans-serif';

const gridRects = [
  { left: 85, top: 35, width: 353, height: 212 },
  { left: 443, top: 35, width: 352, height: 212 },
  { left: 85, top: 270, width: 352, height: 212 },
  { left: 443, top: 270, width: 352, height: 212 },
];
const labelPos = [
  { left: 101, top: 46 },
  { left: 458, top: 46 },
  { left: 101, top: 281 },
  { left: 458, top: 281 },
];

function buildOption() {
  const grids: any[] = [];
  const xAxes: any[] = [];
  const yAxes: any[] = [];
  const series: any[] = [];
  const titles: any[] = [];

  panelData.forEach((data, i) => {
    const topRow = i < 2;
    const refColor = topRow ? "#000" : "#555";
    const zeroColor = topRow ? "#000" : "#999";
    const zeroWidth = topRow ? 1 : 2;
    grids.push({
      ...gridRects[i],
      show: true,
      borderColor: "#000",
      borderWidth: 3,
      backgroundColor: "transparent",
      z: 5,
      containLabel: false,
      outerBoundsMode: "none",
    });
    const xb = {
      gridIndex: i,
      type: "value",
      min: xMins[i],
      max: xMaxs[i],
      axisLine: { show: false, onZero: false },
    };
    const minorTick = { show: true, inside: true, length: 4, interval: 0, lineStyle: { color: "#000", width: 1 } };
    const majorTick = { show: true, inside: true, length: 7, interval: 0, lineStyle: { color: "#000", width: 3 } };
    xAxes.push({
      ...xb,
      position: "bottom",
      minInterval: 1,
      maxInterval: 1,
      axisTick: minorTick,
      splitLine: { show: true, interval: 0, showMinLine: false, showMaxLine: false, lineStyle: { color: "#dcdcdc", width: 1 } },
      axisLabel: {
        show: true,
        interval: 0,
        fontSize: 16,
        color: "#111",
        fontFamily: FONT,
        margin: 5,
        formatter: (v: number) => {
          const r = Math.round(v);
          return Math.abs(v - r) < 1e-6 && timeLabels[r] ? timeLabels[r] : "";
        },
      },
    });
    xAxes.push({ ...xb, position: "top", minInterval: 1, maxInterval: 1, axisTick: minorTick, splitLine: { show: false }, axisLabel: { show: false } });
    xAxes.push({
      ...xb,
      position: "bottom",
      minInterval: 6,
      maxInterval: 6,
      z: 1,
      axisTick: majorTick,
      splitLine: { show: true, interval: 0, showMinLine: false, showMaxLine: false, lineStyle: { color: refColor, width: topRow ? 1 : 1.5 } },
      axisLabel: { show: false },
    });
    xAxes.push({ ...xb, position: "top", minInterval: 6, maxInterval: 6, z: 1, axisTick: majorTick, splitLine: { show: false }, axisLabel: { show: false } });

    const yb = {
      gridIndex: i,
      type: "value",
      min: yMin,
      max: yMax,
      inverse: true,
      axisLine: { show: false, onZero: false },
    };
    const showY = i % 2 === 0;
    yAxes.push({
      ...yb,
      position: "left",
      interval: 0.01,
      axisTick: minorTick,
      splitLine: { show: true, interval: 0, showMinLine: false, showMaxLine: false, lineStyle: { color: "#dcdcdc", width: 1 } },
      axisLabel: {
        show: showY,
        interval: 0,
        margin: 7,
        formatter: (v: number) => {
          const r = Math.round(v * 100);
          if (r <= -5 || r >= 4) return "";
          if (r === 0) return "{z|0}";
          return "{n|" + (r / 100).toFixed(2) + "}";
        },
        rich: {
          n: { fontSize: 12, color: "#222", fontFamily: FONT, padding: [0, 14, 0, 0] },
          z: { fontSize: 17, color: "#111", fontFamily: FONT },
        },
      },
    });
    yAxes.push({ ...yb, position: "right", interval: 0.01, axisTick: minorTick, splitLine: { show: false }, axisLabel: { show: false } });
    yAxes.push({
      ...yb,
      position: "left",
      interval: 0.05,
      z: 1,
      axisTick: majorTick,
      splitLine: { show: true, interval: 0, showMinLine: false, showMaxLine: false, lineStyle: { color: zeroColor, width: zeroWidth } },
      axisLabel: { show: false },
    });
    yAxes.push({ ...yb, position: "right", interval: 0.05, z: 1, axisTick: majorTick, splitLine: { show: false }, axisLabel: { show: false } });

    series.push({
      type: "scatter",
      name: panelLabels[i],
      xAxisIndex: i * 4,
      yAxisIndex: i * 4,
      data,
      symbol: "circle",
      symbolSize: 7.5,
      itemStyle: { color: "#0000ff", opacity: 1 },
      z: 3,
      silent: true,
      clip: true,
    });

    titles.push({
      text: panelLabels[i],
      ...labelPos[i],
      padding: [3, 6],
      backgroundColor: "#fff",
      textStyle: { color: "#ff00ff", fontSize: 16.5, fontWeight: "normal", fontFamily: FONT, lineHeight: 17 },
      z: 8,
    });
  });

  return {
    animation: false,
    backgroundColor: "#fff",
    textStyle: { fontFamily: FONT },
    title: titles,
    grid: grids,
    xAxis: xAxes,
    yAxis: yAxes,
    series,
    graphic: [
      {
        type: "text",
        x: 445,
        y: 18,
        style: { text: "Light Curves for 59 Aurigae", fill: "#1515ff", fontSize: 25, fontFamily: FONT, align: "center", verticalAlign: "middle" },
      },
      {
        type: "text",
        x: 18,
        y: 257,
        rotation: Math.PI / 2,
        style: { text: "Relative Visual Magnitude", fill: "#000", fontSize: 25, fontFamily: FONT, align: "center", verticalAlign: "middle" },
      },
      {
        type: "text",
        x: 215,
        y: 509,
        style: { text: "Universal Time", fill: "#000", fontSize: 19, fontFamily: FONT, align: "center", verticalAlign: "middle" },
      },
    ],
  };
}

export default function App() {
  const ref = useRef<HTMLDivElement>(null);
  useEffect(() => {
    if (!ref.current) return;
    const chart = echarts.init(ref.current, undefined, { renderer: "svg" });
    chart.setOption(buildOption() as any);
    return () => chart.dispose();
  }, []);
  return <div ref={ref} style={{ position: "absolute", left: 0, top: 0, width: 800, height: 520 }} />;
}
